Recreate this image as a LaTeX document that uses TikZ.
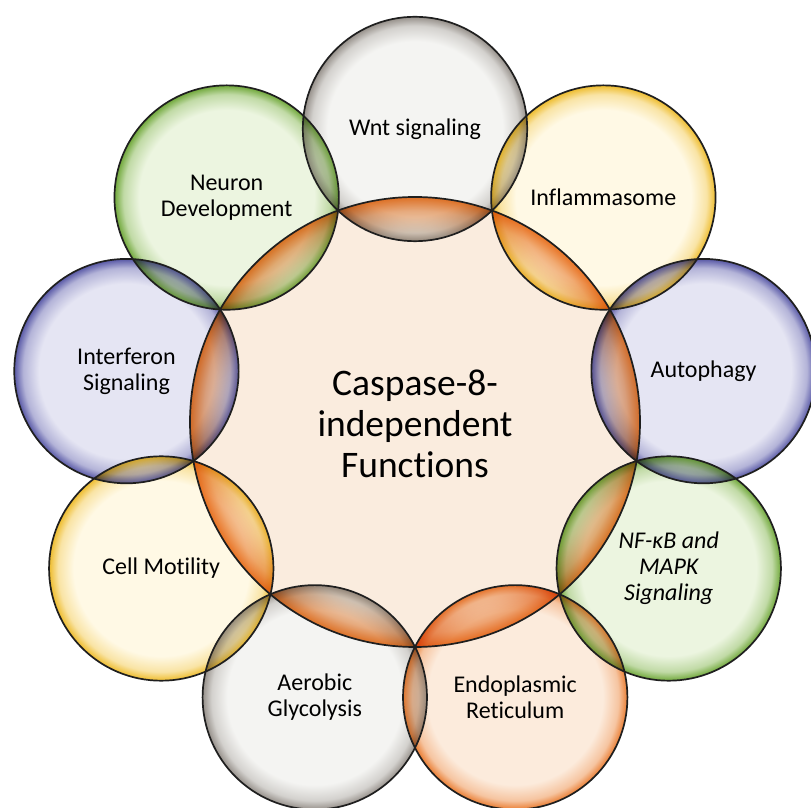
\documentclass[tikz,border=0pt]{standalone}
\usepackage{fontspec}
\setmainfont{Carlito}[Ligatures=NoCommon]
\definecolor{peach}{RGB}{250,236,222}
\definecolor{cenrim}{RGB}{232,118,40}
\definecolor{gryin}{RGB}{244,244,242}
\definecolor{gryrim}{RGB}{150,144,138}
\definecolor{yelin}{RGB}{255,249,229}
\definecolor{yelrim}{RGB}{238,188,45}
\definecolor{bluin}{RGB}{229,229,243}
\definecolor{blurim}{RGB}{88,88,166}
\definecolor{grnin}{RGB}{236,245,224}
\definecolor{grnrim}{RGB}{112,168,58}
\definecolor{ornin}{RGB}{252,235,220}
\definecolor{ornrim}{RGB}{234,125,50}
\pgfdeclareradialshading{shcen}{\pgfpoint{0bp}{0bp}}{color(0bp)=(peach); color(21bp)=(peach); color(23.5bp)=(peach!50!cenrim); color(25bp)=(cenrim); color(50bp)=(cenrim)}
\pgfdeclareradialshading{shgry}{\pgfpoint{0bp}{0bp}}{color(0bp)=(gryin); color(19.5bp)=(gryin); color(23bp)=(gryin!65!gryrim); color(25bp)=(gryrim); color(50bp)=(gryrim)}
\pgfdeclareradialshading{shyel}{\pgfpoint{0bp}{0bp}}{color(0bp)=(yelin); color(19.5bp)=(yelin); color(23bp)=(yelin!65!yelrim); color(25bp)=(yelrim); color(50bp)=(yelrim)}
\pgfdeclareradialshading{shblu}{\pgfpoint{0bp}{0bp}}{color(0bp)=(bluin); color(19.5bp)=(bluin); color(23bp)=(bluin!65!blurim); color(25bp)=(blurim); color(50bp)=(blurim)}
\pgfdeclareradialshading{shgrn}{\pgfpoint{0bp}{0bp}}{color(0bp)=(grnin); color(19.5bp)=(grnin); color(23bp)=(grnin!65!grnrim); color(25bp)=(grnrim); color(50bp)=(grnrim)}
\pgfdeclareradialshading{shorn}{\pgfpoint{0bp}{0bp}}{color(0bp)=(ornin); color(19.5bp)=(ornin); color(23bp)=(ornin!65!ornrim); color(25bp)=(ornrim); color(50bp)=(ornrim)}
\tikzset{
  ring/.style={draw=black!88, line width=1.7pt},
  lbl/.style={font=\fontsize{24}{26}\selectfont, align=center, text=black, inner sep=0pt},
  biglbl/.style={font=\fontsize{37.5}{41}\selectfont, align=center, text=black, inner sep=0pt}
}
\begin{document}
\begin{tikzpicture}[x=1pt,y=1pt]
\useasboundingbox (0,0) rectangle (811,808);
\fill[white] (0,0) rectangle (811,808);
\begin{scope}[shift={(415,386)}]
  \fill[peach] (0,0) circle[radius=225pt];
  \foreach \a in {90,50,10,-30,-70,-110,-150,170,130} {
    \begin{scope}
      \clip (\a:293pt) circle[radius=112.2pt];
      \shade[shading=shcen] (0,0) circle[radius=225pt];
    \end{scope}
  }
  \begin{scope}[blend mode=multiply]
    \foreach \a/\s in {90/shgry,50/shyel,10/shblu,-30/shgrn,-70/shorn,-110/shgry,-150/shyel,170/shblu,130/shgrn}
      \shade[shading=\s] (\a:293pt) circle[radius=112.2pt];
  \end{scope}
  \draw[ring] (0,0) circle[radius=225pt];
  \foreach \a in {90,50,10,-30,-70,-110,-150,170,130}
    \draw[ring] (\a:293pt) circle[radius=112.2pt];
  \node[biglbl] (cen) at (0,-2) {Caspase-8-\\independent\\Functions};
  \node[lbl] (wnt) at (90:293pt) {Wnt signaling};
  \node[lbl] (infl) at (50:293pt) {Inflammasome};
  \node[lbl] (auto) at (10:293pt) {Autophagy};
  \node[lbl] (nfkb) at (-30:293pt) {\itshape NF-κB and\\\itshape MAPK\\\itshape Signaling};
  \node[lbl] (er) at (-70:293pt) {Endoplasmic\\Reticulum};
  \node[lbl] (aero) at (-110:293pt) {Aerobic\\Glycolysis};
  \node[lbl] (cell) at (-150:293pt) {Cell Motility};
  \node[lbl] (ifn) at (170:293pt) {Interferon\\Signaling};
  \node[lbl] (neur) at (130:293pt) {Neuron\\Development};
\end{scope}
\end{tikzpicture}
\end{document}
